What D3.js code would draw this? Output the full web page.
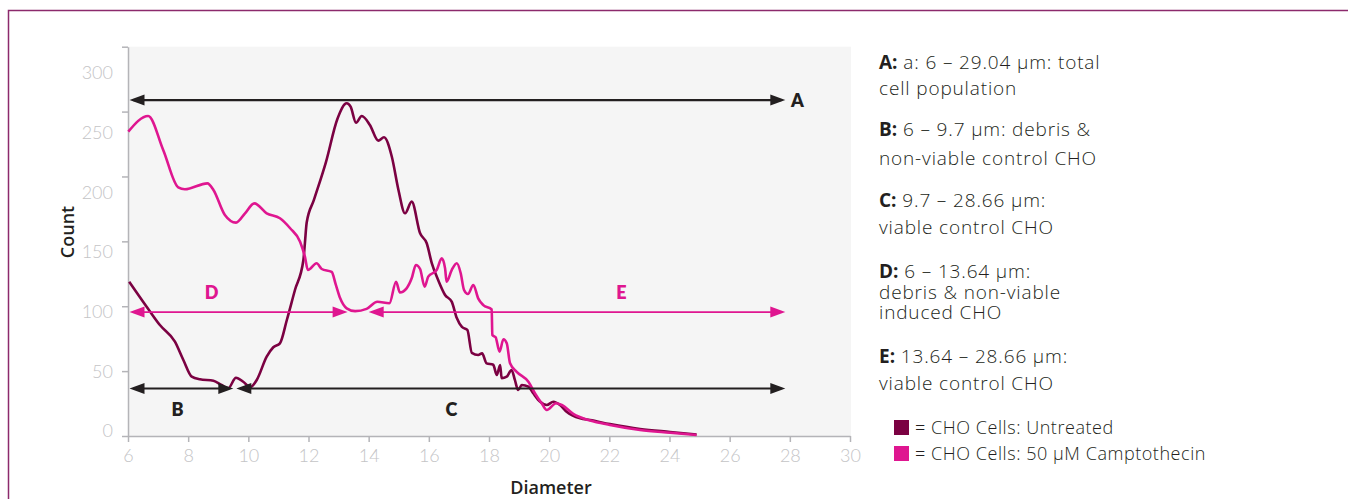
<!DOCTYPE html>
<html>
  <head>
    <title>CHO cell diameter distribution</title>
    <script src="https://d3js.org/d3.v7.min.js"></script>
    <style>
      body { margin: 0; background: #fff; }
      svg { display: block; }
      .axis path, .axis line { stroke: #b4b4b8; stroke-width: 1.5; }
      .axis text { fill: #c4c4c6; font-size: 18px; font-family: Lato, sans-serif; font-weight: 300; }
      .axis__title { font-family: "Open Sans", sans-serif; font-weight: 600; font-size: 18px; fill: #231f20; }
      .note { font-family: "Open Sans", sans-serif; font-weight: 300; font-size: 19px; letter-spacing: 0.85px; fill: #231f20; }
      .note tspan.key { font-weight: 700; letter-spacing: 0; }
      .series { font-family: "Open Sans", sans-serif; font-weight: 300; font-size: 18px; letter-spacing: 0.55px; fill: #231f20; }
      .arrow__label { font-family: Lato, sans-serif; font-weight: 800; font-size: 18px; }
    </style>
  </head>
  <body>
    <svg width="1348" height="499"></svg>
    <script>
      // diameter (µm) / count
      const untreatedX = [6.04, 6.62, 7.06, 7.56, 7.84, 8.12, 8.39, 8.84, 9.11, 9.33, 9.59, 9.83, 10.06, 10.28,
        10.61, 10.83, 11.05, 11.28, 11.55, 11.83, 11.88, 11.94, 12.18, 12.58, 12.96, 13.27, 13.40, 13.58,
        13.77, 14.04, 14.32, 14.51, 14.77, 14.99, 15.21, 15.43, 15.71, 15.93, 16.10, 16.31, 16.54, 16.76,
        16.93, 17.10, 17.28, 17.43, 17.64, 17.77, 17.92, 18.14, 18.26, 18.37, 18.42, 18.59, 18.75, 18.86,
        18.97, 19.09, 19.31, 19.47, 19.70, 19.92, 20.14, 20.36, 20.58, 21.03, 21.36, 22.02, 23.02, 24.02, 24.90];
      const untreatedY = [118.9, 99.6, 85.5, 72.7, 58.6, 45.7, 43.7, 42.6, 39.3, 36.8, 44.9, 41.8, 37.5, 43.2,
        61.1, 68.4, 71.4, 89.4, 112.5, 135.6, 148.5, 164.5, 181.9, 211.1, 244.3, 256.4, 253.8, 241.4,
        246.6, 239.7, 227.6, 230.2, 215.2, 189.6, 171.6, 180.6, 156.2, 148.5, 133.1, 120.2, 108.7, 103.5,
        90.9, 84.0, 81.7, 64.0, 62.4, 63.7, 56.0, 54.9, 47.0, 54.7, 44.5, 45.7, 50.9, 43.2,
        35.4, 39.3, 38.0, 32.9, 26.4, 23.9, 26.4, 23.9, 18.7, 13.6, 12.3, 9.2, 5.4, 3.1, 1.2];

      const camptoX = [6.01, 6.67, 7.17, 7.67, 7.89, 8.64, 8.84, 9.22, 9.59, 9.89, 10.20, 10.61, 11.05, 11.39,
        11.72, 11.88, 11.98, 12.27, 12.44, 12.77, 12.91, 13.05, 13.27, 13.55, 13.93, 14.29, 14.69, 14.91,
        15.04, 15.26, 15.43, 15.57, 15.71, 15.86, 15.98, 16.26, 16.43, 16.54, 16.59, 16.76, 16.93, 17.06,
        17.17, 17.30, 17.48, 17.64, 17.81, 18.09, 18.11, 18.22, 18.35, 18.48, 18.59, 18.70, 18.92, 19.31,
        19.53, 19.75, 19.92, 20.23, 20.42, 20.80, 21.36, 22.02, 23.02, 24.02, 24.90];
      const camptoY = [234.5, 246.6, 220.4, 191.6, 190.1, 194.7, 189.6, 170.3, 164.4, 171.6, 179.3, 171.6, 167.8, 160.1,
        149.7, 138.2, 127.9, 133.1, 128.7, 126.4, 116.4, 106.3, 98.4, 96.2, 98.0, 103.5, 102.3, 118.9,
        110.6, 113.8, 121.5, 131.8, 128.7, 115.0, 122.8, 127.9, 136.9, 129.2, 118.9, 127.9, 133.1, 125.4,
        112.5, 109.4, 116.4, 106.1, 100.9, 97.5, 77.8, 76.1, 65.0, 74.5, 71.4, 56.0, 49.5, 41.8,
        32.9, 25.2, 20.0, 25.2, 23.9, 17.0, 11.9, 8.5, 4.6, 2.5, 0.8];

      const xTicks = [6, 8, 10, 12, 14, 16, 18, 20, 22, 24, 26, 28, 30];
      const yTicks = [0, 50, 100, 150, 200, 250, 300];

      // gate arrows: label, from, to, count level, label x, label offset
      const gateNames = ["A", "B", "C", "D", "E"];
      const gateFrom = [6.05, 6.05, 9.6, 6.05, 14.0];
      const gateTo = [27.85, 9.5, 27.85, 13.3, 27.85];
      const gateLevel = [258.9, 36.6, 36.6, 95.5, 95.5];
      const gateLabelX = [28.25, 7.65, 16.75, 8.78, 22.4];
      const gateLabelDy = [1, 21, 21, -19, -19];

      const legendKeys = ["A:", "B:", "C:", "D:", "E:"];
      const legendLines = [
        [" a: 6 – 29.04 µm: total", "cell population"],
        [" 6 – 9.7 µm: debris &", "non-viable control CHO"],
        [" 9.7 – 28.66 µm:", "viable control CHO"],
        [" 6 – 13.64 µm:", "debris & non-viable", "induced CHO"],
        [" 13.64 – 28.66 µm:", "viable control CHO"]
      ];
      const seriesNames = ["= CHO Cells: Untreated", "= CHO Cells: 50 µM Camptothecin"];

      const maroon = "#7b0142";
      const magenta = "#df1690";
      const ink = "#231f20";

      const svg = d3.select("svg");

      // frame
      svg.append("path")
        .attr("d", "M8.5,499V10.5H1348")
        .attr("fill", "none")
        .attr("stroke", "#8c2a6c")
        .attr("stroke-width", 1.5);

      const x = d3.scaleLinear().domain([6, 30]).range([128, 850]);
      const y = d3.scaleLinear().domain([0, 300]).range([436, 46.7]);
      // the printed tick labels sit on a slightly tighter scale than the tick marks
      const yLabel = d3.scaleLinear().domain([0, 300]).range([431, 73]);

      svg.append("rect")
        .attr("x", x(6))
        .attr("y", y(300))
        .attr("width", x(30) - x(6) + 1)
        .attr("height", y(0) - y(300))
        .attr("fill", "#f5f5f5");

      const xAxisG = svg.append("g")
        .attr("class", "axis")
        .attr("transform", `translate(0, ${y(0)})`)
        .call(d3.axisBottom(x).tickValues(xTicks).tickSize(6).tickSizeOuter(0).tickPadding(7));
      xAxisG.attr("font-family", null).attr("font-size", null);

      const yAxisG = svg.append("g")
        .attr("class", "axis")
        .attr("transform", `translate(${x(6)}, 0)`)
        .call(d3.axisLeft(y).tickValues(yTicks).tickSize(6).tickSizeOuter(0).tickPadding(9));
      yAxisG.attr("font-family", null).attr("font-size", null);
      yAxisG.selectAll(".tick text")
        .attr("transform", d => `translate(0, ${yLabel(d) - y(d)})`);

      svg.append("text")
        .attr("class", "axis__title")
        .attr("transform", "translate(74, 232) rotate(-90)")
        .attr("text-anchor", "middle")
        .text("Count");
      svg.append("text")
        .attr("class", "axis__title")
        .attr("x", 551)
        .attr("y", 494)
        .attr("text-anchor", "middle")
        .text("Diameter");

      // curves
      const line = d3.line()
        .x(d => x(d[0]))
        .y(d => y(d[1]))
        .curve(d3.curveMonotoneX);

      const untreated = untreatedX.map((v, i) => [v, untreatedY[i]]);
      const campto = camptoX.map((v, i) => [v, camptoY[i]]);

      svg.append("path")
        .datum(untreated)
        .attr("d", line)
        .attr("fill", "none")
        .attr("stroke", maroon)
        .attr("stroke-width", 2.6)
        .attr("stroke-linejoin", "round");

      svg.append("path")
        .datum(campto)
        .attr("d", line)
        .attr("fill", "none")
        .attr("stroke", magenta)
        .attr("stroke-width", 2.6)
        .attr("stroke-linejoin", "round");

      // gate arrows
      function head(tipX, cy, dir, color) {
        const len = 15, half = 5.5;
        svg.append("path")
          .attr("d", `M${tipX},${cy}L${tipX - dir * len},${cy - half}L${tipX - dir * len},${cy + half}Z`)
          .attr("fill", color);
      }

      gateNames.forEach((name, i) => {
        const color = (name === "D" || name === "E") ? magenta : ink;
        const cy = y(gateLevel[i]);
        const x0 = x(gateFrom[i]);
        const x1 = x(gateTo[i]);
        svg.append("line")
          .attr("x1", x0 + 4)
          .attr("x2", x1 - 4)
          .attr("y1", cy)
          .attr("y2", cy)
          .attr("stroke", color)
          .attr("stroke-width", color === ink ? 2.2 : 1.8);
        head(x0, cy, -1, color);
        head(x1, cy, 1, color);
        svg.append("text")
          .attr("class", "arrow__label")
          .attr("x", x(gateLabelX[i]))
          .attr("y", cy + gateLabelDy[i])
          .attr("dy", "0.35em")
          .attr("text-anchor", "middle")
          .attr("fill", color)
          .text(name);
      });

      // notes on the right
      const noteTop = [62, 129, 200, 271.5, 356];
      const noteStep = [26, 29, 27, 20.5, 27];
      legendLines.forEach((lines, i) => {
        lines.forEach((txt, j) => {
          const t = svg.append("text")
            .attr("class", "note")
            .attr("x", 879)
            .attr("y", noteTop[i] + j * noteStep[i])
            .attr("dy", "0.35em");
          if (j === 0) {
            t.append("tspan").attr("class", "key").text(legendKeys[i]);
            t.append("tspan").text(txt);
          } else {
            t.text(txt);
          }
        });
      });

      const seriesG = svg.append("g")
        .attr("transform", "translate(894, 420)");
      const seriesRow = seriesG.selectAll("g")
        .data(seriesNames)
        .enter().append("g")
          .attr("transform", (d, i) => `translate(0, ${i * 26})`);
      seriesRow.append("rect")
        .attr("width", 15)
        .attr("height", 15)
        .attr("fill", (d, i) => i === 0 ? maroon : magenta);
      seriesRow.append("text")
        .attr("class", "series")
        .attr("x", 21)
        .attr("y", 8)
        .attr("dy", "0.35em")
        .text(d => d);
    </script>
  </body>
</html>
